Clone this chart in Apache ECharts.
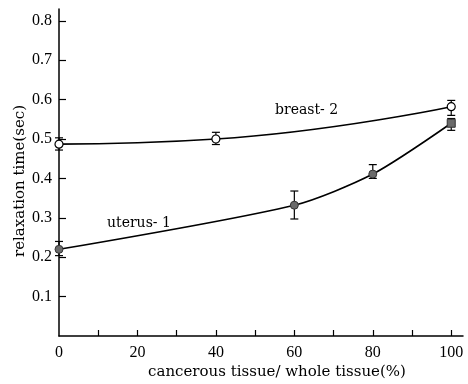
<!DOCTYPE html>
<html><head><meta charset="utf-8">
<script src="https://cdn.jsdelivr.net/npm/echarts@6/dist/echarts.min.js"></script>
<style>html,body{margin:0;background:#fff}#c{width:468px;height:384px}</style>
</head><body><div id="c"></div>
<script>
// Relaxation time vs. share of cancerous tissue
const breastX = [0, 40, 100];
const breastY = [0.487, 0.500, 0.582];
const breastLow = [0.472, 0.486, 0.560];
const breastHigh = [0.503, 0.517, 0.598];

const uterusX = [0, 60, 80, 100];
const uterusY = [0.220, 0.332, 0.411, 0.540];
const uterusLow = [0.204, 0.297, 0.400, 0.522];
const uterusHigh = [0.240, 0.368, 0.435, 0.552];

const xTickValues = [10, 20, 30, 40, 50, 60, 70, 80, 90, 100];
const xLabelValues = [0, 20, 40, 60, 80, 100];
const yTickValues = [0.1, 0.2, 0.3, 0.4, 0.5, 0.6, 0.7, 0.8];

const serif = 'Liberation Serif';
const textFont = 'DejaVu Serif';

function pairs(xs, ys) { return xs.map((x, i) => [x, ys[i]]); }
function bars(xs, lo, hi) { return xs.map((x, i) => [x, lo[i], hi[i]]); }

function errorBar(params, api) {
  const x = api.value(0);
  const pLo = api.coord([x, api.value(1)]);
  const pHi = api.coord([x, api.value(2)]);
  const w = 4;
  const st = { stroke: '#000', lineWidth: 1.2 };
  return {
    type: 'group',
    children: [
      { type: 'line', shape: { x1: pLo[0], y1: pLo[1], x2: pHi[0], y2: pHi[1] }, style: st },
      { type: 'line', shape: { x1: pLo[0] - w, y1: pLo[1], x2: pLo[0] + w, y2: pLo[1] }, style: st },
      { type: 'line', shape: { x1: pHi[0] - w, y1: pHi[1], x2: pHi[0] + w, y2: pHi[1] }, style: st }
    ]
  };
}

const uterusPoints = pairs(uterusX, uterusY).map((p, i) =>
  i === uterusX.length - 1 ? { value: p, symbol: 'rect', symbolSize: 8 } : p);

const chart = echarts.init(document.getElementById('c'));
chart.setOption({
  animation: false,
  grid: { left: 59, right: 5, top: 9, bottom: 48 },
  xAxis: {
    type: 'value', min: 0, max: 103,
    axisLine: { lineStyle: { color: '#000', width: 1.5 } },
    axisTick: { inside: true, length: 6, customValues: xTickValues, lineStyle: { color: '#000', width: 1.2 } },
    axisLabel: { customValues: xLabelValues, color: '#000', fontFamily: serif, fontSize: 16, margin: 9 },
    splitLine: { show: false }
  },
  yAxis: {
    type: 'value', min: 0, max: 0.83,
    axisLine: { show: true, lineStyle: { color: '#000', width: 1.5 } },
    axisTick: { show: true, inside: true, length: 7, customValues: yTickValues, lineStyle: { color: '#000', width: 1.2 } },
    axisLabel: { customValues: yTickValues, color: '#000', fontFamily: serif, fontSize: 16, margin: 7,
      formatter: v => v.toFixed(1) },
    splitLine: { show: false }
  },
  series: [
    { type: 'custom', renderItem: errorBar, data: bars(breastX, breastLow, breastHigh), z: 3 },
    { type: 'custom', renderItem: errorBar, data: bars(uterusX, uterusLow, uterusHigh), z: 3 },
    {
      type: 'line', data: pairs(breastX, breastY), smooth: 0.5, z: 4,
      symbol: 'circle', symbolSize: 8,
      lineStyle: { color: '#000', width: 1.6 },
      itemStyle: { color: '#fff', borderColor: '#000', borderWidth: 1.2 }
    },
    {
      type: 'line', data: uterusPoints, smooth: 0.25, z: 4,
      symbol: 'circle', symbolSize: 8,
      lineStyle: { color: '#000', width: 1.6 },
      itemStyle: { color: '#6a6a6a', borderColor: '#333', borderWidth: 1 }
    }
  ],
  graphic: [
    { type: 'text', left: 275, top: 103, style: { text: 'breast- 2', font: '14px ' + textFont, fill: '#000' } },
    { type: 'text', left: 107, top: 216, style: { text: 'uterus- 1', font: '14px ' + textFont, fill: '#000' } },
    { type: 'text', x: 20, y: 181, rotation: Math.PI / 2,
      style: { text: 'relaxation time(sec)', font: '15px ' + textFont, fill: '#000', align: 'center', verticalAlign: 'middle' } },
    { type: 'text', x: 277, y: 372,
      style: { text: 'cancerous tissue/ whole tissue(%)', font: '15px ' + textFont, fill: '#000', align: 'center', verticalAlign: 'middle' } }
  ]
});
</script>
</body></html>
